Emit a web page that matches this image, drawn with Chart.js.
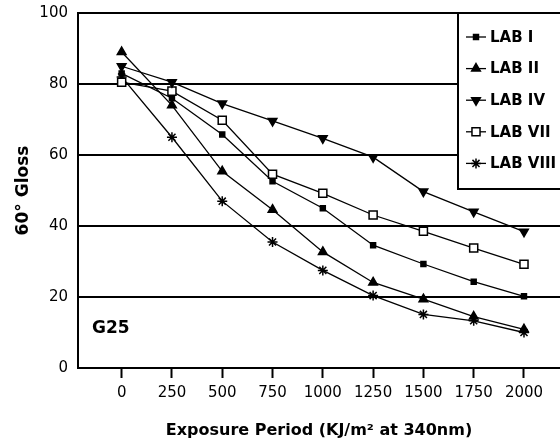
<!DOCTYPE html>
<html>
<head>
<meta charset="utf-8">
<script src="https://cdn.jsdelivr.net/npm/chart.js@4"></script>
<style>
  html, body { margin: 0; padding: 0; background: #fff; overflow: hidden; }
  canvas { display: block; }
</style>
</head>
<body>
<canvas id="glossChart" width="560" height="441"></canvas>
<script>
// exposure steps (KJ/m2 at 340nm) and gloss readings per lab
const exposureSteps = [0, 250, 500, 750, 1000, 1250, 1500, 1750, 2000];
const labOne = [83, 76, 65.8, 52.6, 45, 34.6, 29.3, 24.3, 20.2];
const labTwo = [89, 74, 55.4, 44.6, 32.7, 24.1, 19.4, 14.5, 10.9];
const labFour = [85, 80.5, 74.5, 69.6, 64.7, 59.4, 49.7, 44, 38.4];
const labSeven = [80.5, 78, 69.8, 54.6, 49.2, 43.1, 38.5, 33.8, 29.2];
const labEight = [82, 65, 47, 35.5, 27.5, 20.4, 15.1, 13.3, 10];
const seriesNames = ["LAB I", "LAB II", "LAB IV", "LAB VII", "LAB VIII"];
const yTickValues = [0, 20, 40, 60, 80, 100];

const fontFamily = "'DejaVu Sans', sans-serif";

function toPoints(values) {
  return exposureSteps.map((x, i) => ({ x: x, y: values[i] }));
}

function makeDataset(name, values, style, radius, fill, rotation) {
  return {
    label: name,
    data: toPoints(values),
    borderColor: "#000",
    borderWidth: 1.3,
    pointStyle: style,
    pointRadius: radius,
    pointRotation: rotation || 0,
    pointBackgroundColor: fill,
    pointBorderColor: "#000",
    pointBorderWidth: 1.5,
    tension: 0,
  };
}

// stretch the plot to the right edge of the canvas (the original is cut off there)
const fullWidthPlugin = {
  id: "fullWidth",
  afterLayout(chart) {
    const area = chart.chartArea;
    area.right = chart.width;
    area.width = area.right - area.left;
    const xScale = chart.scales.x;
    xScale.right = chart.width;
    xScale.width = xScale.right - xScale.left;
    xScale.configure();
  },
};

// legend drawn over the plot, like the original box at top right
const legendBoxPlugin = {
  id: "legendBox",
  afterDatasetsDraw(chart) {
    const c = chart.ctx;
    c.save();
    c.fillStyle = "#fff";
    c.strokeStyle = "#000";
    c.lineWidth = 2;
    c.fillRect(458, 13, 110, 176);
    c.strokeRect(458, 13, 110, 176);

    chart.data.datasets.forEach((ds, i) => {
      const y = 37 + i * 31.6;
      c.strokeStyle = "#000";
      c.lineWidth = 1.3;
      c.beginPath();
      c.moveTo(466, y);
      c.lineTo(486, y);
      c.stroke();
      c.fillStyle = ds.pointBackgroundColor;
      c.lineWidth = 1.5;
      Chart.helpers.drawPoint(c, {
        pointStyle: ds.pointStyle,
        radius: ds.pointRadius,
        rotation: ds.pointRotation,
        borderWidth: 1.5,
      }, 476, y);
      c.fillStyle = "#000";
      c.font = "bold 15px " + fontFamily;
      c.textBaseline = "middle";
      c.textAlign = "left";
      c.fillText(ds.label, 490, y + 1);
    });

    c.font = "bold 17px " + fontFamily;
    c.fillStyle = "#000";
    c.textBaseline = "middle";
    c.fillText("G25", 92, 329);
    c.restore();
  },
};

const chartElement = document.getElementById("glossChart");
new Chart(chartElement, {
  type: "line",
  data: {
    datasets: [
      makeDataset(seriesNames[0], labOne, "rect", 3.5, "#000"),
      makeDataset(seriesNames[1], labTwo, "triangle", 5, "#000"),
      makeDataset(seriesNames[2], labFour, "triangle", 5, "#000", 180),
      makeDataset(seriesNames[3], labSeven, "rect", 5.7, "#fff"),
      makeDataset(seriesNames[4], labEight, "star", 5, "#000"),
    ],
  },
  options: {
    responsive: false,
    animation: false,
    devicePixelRatio: 1,
    layout: { padding: { top: 13, left: 0, right: 0, bottom: 0 } },
    plugins: {
      legend: { display: false },
      tooltip: { enabled: false },
    },
    scales: {
      x: {
        type: "linear",
        min: -217,
        max: 2179,
        afterBuildTicks(scale) {
          scale.ticks = exposureSteps.map((v) => ({ value: v }));
        },
        afterFit(scale) {
          scale.height = 73;
          scale.paddingLeft = 0;
          scale.paddingRight = 0;
        },
        grid: {
          drawOnChartArea: false,
          drawTicks: true,
          tickLength: 10,
          tickWidth: 2,
          tickColor: "#000",
        },
        border: { display: true, color: "#000", width: 2 },
        ticks: {
          color: "#000",
          font: { family: fontFamily, size: 15 },
          padding: 6,
          maxRotation: 0,
          autoSkip: false,
          callback: (value) => String(value),
        },
        title: {
          display: true,
          text: "Exposure Period (KJ/m² at 340nm)",
          color: "#000",
          font: { family: fontFamily, size: 16, weight: "bold" },
          padding: { top: 0, bottom: 1 },
        },
      },
      y: {
        min: 0,
        max: 100,
        afterBuildTicks(scale) {
          scale.ticks = yTickValues.map((v) => ({ value: v }));
        },
        afterFit(scale) {
          scale.width = 78;
          scale.paddingTop = 0;
          scale.paddingBottom = 0;
        },
        grid: {
          color: "#000",
          lineWidth: 2,
          drawTicks: false,
        },
        border: { display: true, color: "#000", width: 2 },
        ticks: {
          color: "#000",
          font: { family: fontFamily, size: 15 },
          padding: 10,
        },
        title: {
          display: true,
          text: "60° Gloss",
          color: "#000",
          font: { family: fontFamily, size: 17, weight: "bold" },
          padding: { top: 13, bottom: 0 },
        },
      },
    },
  },
  plugins: [fullWidthPlugin, legendBoxPlugin],
});
</script>
</body>
</html>
